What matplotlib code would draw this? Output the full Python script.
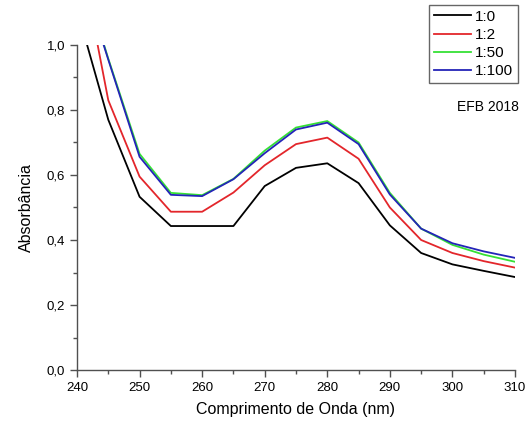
import matplotlib.pyplot as plt
from matplotlib.ticker import MultipleLocator, FuncFormatter

plt.rcParams['font.family'] = ['Liberation Sans', 'DejaVu Sans']

# wavelength (nm)
wl = [240, 245, 250, 255, 260, 265, 270, 275, 280, 285, 290, 295, 300, 305, 310]

# absorbance for each dilution
abs_1_0 = [1.11, 0.77, 0.533, 0.443, 0.443, 0.443, 0.566, 0.622, 0.636, 0.575, 0.445, 0.36, 0.325, 0.305, 0.286]
abs_1_2 = [1.33, 0.83, 0.595, 0.487, 0.487, 0.546, 0.63, 0.695, 0.715, 0.65, 0.50, 0.40, 0.36, 0.335, 0.315]
abs_1_50 = [1.27, 0.958, 0.665, 0.545, 0.538, 0.588, 0.675, 0.746, 0.766, 0.70, 0.545, 0.435, 0.385, 0.355, 0.333]
abs_1_100 = [1.26, 0.955, 0.656, 0.539, 0.535, 0.587, 0.667, 0.74, 0.761, 0.695, 0.54, 0.435, 0.39, 0.365, 0.345]

labels = ['1:0', '1:2', '1:50', '1:100']
colors = ['black', '#e3262b', '#35e035', '#2424b8']

fig = plt.figure(figsize=(5.27, 4.23), dpi=100)
ax = fig.add_axes([77 / 527, 1 - 370 / 423, 438 / 527, 325 / 423])

for y, lab, c in zip([abs_1_0, abs_1_2, abs_1_50, abs_1_100], labels, colors):
    ax.plot(wl, y, color=c, lw=1.3, label=lab)

ax.set_xlim(240, 310)
ax.set_ylim(0, 1.0)
ax.xaxis.set_major_locator(MultipleLocator(10))
ax.xaxis.set_minor_locator(MultipleLocator(5))
ax.yaxis.set_major_locator(MultipleLocator(0.2))
ax.yaxis.set_minor_locator(MultipleLocator(0.1))
ax.yaxis.set_major_formatter(FuncFormatter(lambda v, p: f'{v:.1f}'.replace('.', ',')))

for s in ['top', 'right']:
    ax.spines[s].set_visible(False)
for s in ['left', 'bottom']:
    ax.spines[s].set_color('#505050')
    ax.spines[s].set_linewidth(1.0)
ax.tick_params(which='major', direction='out', length=5, width=1, color='#505050', labelsize=9.5)
ax.tick_params(which='minor', direction='out', length=3, width=1, color='#505050')

ax.set_xlabel('Comprimento de Onda (nm)', fontsize=11.5, labelpad=6)
ax.set_ylabel('Absorbância', fontsize=11.5, labelpad=9)

leg = fig.legend(loc='upper right', bbox_to_anchor=(518 / 527, 1 - 5 / 423), fontsize=11,
                 frameon=True, fancybox=False, edgecolor='#404040', handlelength=2.4,
                 handletextpad=0.3, borderpad=0.3, labelspacing=0.28, borderaxespad=0)
leg.get_frame().set_linewidth(1.0)

fig.text(488 / 527, 1 - 107 / 423, 'EFB 2018', fontsize=10, ha='center', va='center')

fig.savefig('out.png', dpi=100)
